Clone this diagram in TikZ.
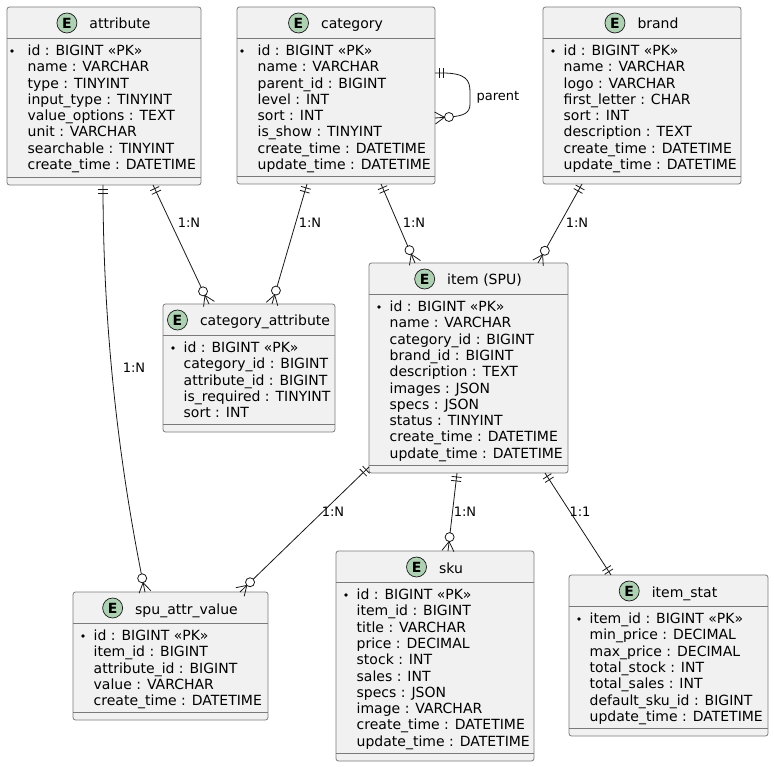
\documentclass[tikz,border=0pt]{standalone}
\usepackage{fontspec}
\setmainfont{DejaVu Sans}
\usetikzlibrary{calc}
\definecolor{entfill}{HTML}{F1F1F1}
\definecolor{entline}{HTML}{7A7A7A}
\definecolor{ecol}{HTML}{ADD1B2}
\definecolor{lncol}{HTML}{181818}

\tikzset{
 entbox/.style={draw=entline, fill=entfill, line width=0.8pt, rounded corners=2.5pt, inner sep=0pt, outer sep=0pt, rectangle},
 sepline/.style={draw=entline, line width=0.8pt},
 rowtext/.style={font=\fontsize{14}{16}\selectfont, inner sep=0pt, anchor=base west, text=black},
 titletext/.style={font=\fontsize{14}{16}\selectfont, inner sep=0pt, anchor=base},
 ecirc/.style={circle, draw=lncol, fill=ecol, line width=0.7pt, minimum size=20pt, inner sep=0pt, font=\bfseries\fontsize{14}{16}\selectfont},
 conn/.style={draw=lncol, line width=0.8pt},
 lbl/.style={font=\fontsize{13}{15}\selectfont, inner sep=0pt, text=black},
}

\newcommand\entity[7]{%
  \node[entbox, anchor=north west, minimum width={(#4-#2)*1pt}, minimum height={(#5-#3)*1pt}] (#1) at (#2,#3) {};
  \draw[sepline] ([yshift=-31.5pt]#1.north west) -- ([yshift=-31.5pt]#1.north east);
  \draw[sepline] ([yshift=7.5pt]#1.south west) -- ([yshift=7.5pt]#1.south east);
  \node[titletext] (#1-t) at ([xshift=16pt, yshift=-22pt]#1.north) {#6};
  \node[ecirc, anchor=east] (#1-e) at ([xshift=-12pt, yshift=6pt]#1-t.base west) {E};
  \fill[black] ([xshift=#7pt, yshift=-44pt]#1.north west) circle (1.9pt);
}
\newcommand\entrows[2]{%
  \foreach \r [count=\i from 0] in {#2} {
    \node[rowtext] at ([xshift=20.5pt, yshift={-48.5pt-\i*16.3pt}]#1.north west) {\r};
  }
}
\newcommand\onemk[2]{%
  \path ($(#1)!4pt!(#2)$) coordinate (mkA) ($(#1)!8pt!(#2)$) coordinate (mkB);
  \draw[conn] ($(mkA)!5pt!90:(#2)$) -- ($(mkA)!5pt!-90:(#2)$);
  \draw[conn] ($(mkB)!5pt!90:(#2)$) -- ($(mkB)!5pt!-90:(#2)$);
}
\newcommand\manymk[2]{%
  \path ($(#1)!14pt!(#2)$) coordinate (mkC) ($(#1)!9.5pt!(#2)$) coordinate (mkD);
  \draw[conn] ($(#1)!6pt!90:(#2)$) -- (mkD) -- ($(#1)!6pt!-90:(#2)$);
  \draw[conn, fill=white] (mkC) circle (4.5pt);
}

\begin{document}
\begin{tikzpicture}[x=1pt, y=-1pt]
\useasboundingbox (0,0) rectangle (774,767);

% entities
\entity{attr}{7}{7}{201}{185}{attribute}{5}
\entrows{attr}{id : BIGINT «PK», name : VARCHAR, type : TINYINT, input\_type : TINYINT, value\_options : TEXT, unit : VARCHAR, searchable : TINYINT, create\_time : DATETIME}

\entity{cat}{237}{7}{435}{184}{category}{5}
\entrows{cat}{id : BIGINT «PK», name : VARCHAR, parent\_id : BIGINT, level : INT, sort : INT, is\_show : TINYINT, create\_time : DATETIME, update\_time : DATETIME}

\entity{brand}{543}{7}{741}{184}{brand}{10}
\entrows{brand}{id : BIGINT «PK», name : VARCHAR, logo : VARCHAR, first\_letter : CHAR, sort : INT, description : TEXT, create\_time : DATETIME, update\_time : DATETIME}

\entity{catattr}{163}{304}{335}{432}{category\_attribute}{10}
\entrows{catattr}{id : BIGINT «PK», category\_id : BIGINT, attribute\_id : BIGINT, is\_required : TINYINT, sort : INT}

\entity{item}{369}{263}{568}{473}{item (SPU)}{10}
\entrows{item}{id : BIGINT «PK», name : VARCHAR, category\_id : BIGINT, brand\_id : BIGINT, description : TEXT, images : JSON, specs : JSON, status : TINYINT, create\_time : DATETIME, update\_time : DATETIME}

\entity{spu}{73}{592}{268}{720}{spu\_attr\_value}{10}
\entrows{spu}{id : BIGINT «PK», item\_id : BIGINT, attribute\_id : BIGINT, value : VARCHAR, create\_time : DATETIME}

\entity{sku}{336}{551}{534}{761}{sku}{10}
\entrows{sku}{id : BIGINT «PK», item\_id : BIGINT, title : VARCHAR, price : DECIMAL, stock : INT, sales : INT, specs : JSON, image : VARCHAR, create\_time : DATETIME, update\_time : DATETIME}

\entity{stat}{569}{575}{768}{736}{item\_stat}{10}
\entrows{stat}{item\_id : BIGINT «PK», min\_price : DECIMAL, max\_price : DECIMAL, total\_stock : INT, total\_sales : INT, default\_sku\_id : BIGINT, update\_time : DATETIME}

% connector end points
\coordinate (a1) at (103,0 |- attr.south);
\coordinate (s1) at (145,0 |- spu.north);
\coordinate (a2) at (153,0 |- attr.south);
\coordinate (ca1) at (209,0 |- catattr.north);
\coordinate (c1) at (307,0 |- cat.south);
\coordinate (ca2) at (272,0 |- catattr.north);
\coordinate (c2) at (381,0 |- cat.south);
\coordinate (i1) at (415,0 |- item.north);
\coordinate (b1) at (582,0 |- brand.south);
\coordinate (i2) at (538,0 |- item.north);
\coordinate (c3) at (cat.east |- 0,73);
\coordinate (c4) at (cat.east |- 0,118);
\coordinate (i3) at (item.west |- 0,467);
\coordinate (s2) at (240,0 |- spu.north);
\coordinate (i4) at (457,0 |- item.south);
\coordinate (k1) at (448,0 |- sku.north);
\coordinate (i5) at (545,0 |- item.south);
\coordinate (t1) at (611,0 |- stat.north);

% attribute -> spu_attr_value
\draw[conn] (a1) .. controls (103,320.7) and (117,456.3) .. (s1);
\onemk{a1}{103,300}
\manymk{s1}{117,456.3}
\node[lbl] at (134,368) {1:N};

% attribute -> category_attribute
\draw[conn] (a2) -- (ca1);
\onemk{a2}{ca1}
\manymk{ca1}{a2}
\node[lbl] at (189,223) {1:N};

% category -> category_attribute
\draw[conn] (c1) -- (ca2);
\onemk{c1}{ca2}
\manymk{ca2}{c1}
\node[lbl] at (310,223) {1:N};

% category -> item
\draw[conn] (c2) -- (i1);
\onemk{c2}{i1}
\manymk{i1}{c2}
\node[lbl] at (414,223) {1:N};

% brand -> item
\draw[conn] (b1) -- (i2);
\onemk{b1}{i2}
\manymk{i2}{b1}
\node[lbl] at (577,223) {1:N};

% category self loop
\draw[conn] (c3) -- (442,73) .. controls (466,73) and (470,80) .. (470,92) -- (470,104) .. controls (470,113) and (464,116) .. (449,117) -- (c4);
\onemk{c3}{450,73}
\manymk{c4}{449,117}
\node[lbl] at (498,97) {parent};

% item -> spu_attr_value
\draw[conn] (i3) -- (s2);
\onemk{i3}{s2}
\manymk{s2}{i3}
\node[lbl] at (333,512) {1:N};

% item -> sku
\draw[conn] (i4) -- (k1);
\onemk{i4}{k1}
\manymk{k1}{i4}
\node[lbl] at (465,512) {1:N};

% item -> item_stat
\draw[conn] (i5) -- (t1);
\onemk{i5}{t1}
\onemk{t1}{i5}
\node[lbl] at (580,512) {1:1};
\end{tikzpicture}
\end{document}
